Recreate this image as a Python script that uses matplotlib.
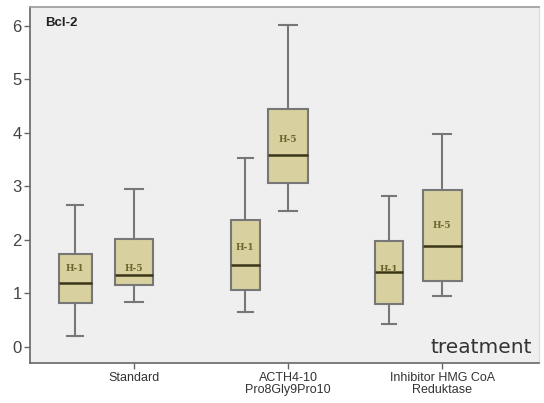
import matplotlib
matplotlib.use("Agg")
import matplotlib.pyplot as plt

plt.rcParams["font.family"] = ["Liberation Sans", "DejaVu Sans"]

categories = ["Standard", "ACTH4-10\nPro8Gly9Pro10", "Inhibitor HMG CoA\nReduktase"]
groups = ["H-1", "H-5"]

# H-1 series
h1_whislo = [0.20, 0.64, 0.42]
h1_q1     = [0.81, 1.06, 0.79]
h1_med    = [1.20, 1.52, 1.40]
h1_q3     = [1.73, 2.37, 1.98]
h1_whishi = [2.64, 3.52, 2.82]
h1_label_y = [1.46, 1.86, 1.45]

# H-5 series
h5_whislo = [0.83, 2.54, 0.95]
h5_q1     = [1.15, 3.06, 1.23]
h5_med    = [1.34, 3.59, 1.88]
h5_q3     = [2.01, 4.45, 2.93]
h5_whishi = [2.95, 6.01, 3.97]
h5_label_y = [1.46, 3.88, 2.26]

yticks = [0, 1, 2, 3, 4, 5, 6]

# layout
h1_offset = [-0.38, -0.277, -0.347]
h1_width = [0.21, 0.19, 0.185]
h5_width = [0.25, 0.255, 0.255]

fig = plt.figure(figsize=(5.44, 4.03), dpi=100)
ax = fig.add_axes([0.0551, 0.0985, 0.9366, 0.8841])
ax.set_facecolor("#efefef")
fig.patch.set_facecolor("white")

box_fill = "#d8d09f"
edge = "#777777"
med_col = "#3a3518"
lab_col = "#6b672e"

def make_stats(lo, q1, med, q3, hi):
    return [dict(whislo=a, q1=b, med=c, q3=d, whishi=e, fliers=[])
            for a, b, c, d, e in zip(lo, q1, med, q3, hi)]

s1 = make_stats(h1_whislo, h1_q1, h1_med, h1_q3, h1_whishi)
s5 = make_stats(h5_whislo, h5_q1, h5_med, h5_q3, h5_whishi)

pos5 = list(range(len(categories)))
pos1 = [p + o for p, o in zip(pos5, h1_offset)]

common = dict(patch_artist=True, showfliers=False,
              boxprops=dict(facecolor=box_fill, edgecolor=edge, linewidth=1.5),
              whiskerprops=dict(color=edge, linewidth=1.5),
              capprops=dict(color=edge, linewidth=1.5),
              medianprops=dict(color=med_col, linewidth=1.8))

for st, p, w in zip(s1, pos1, h1_width):
    ax.bxp([st], positions=[p], widths=[w], capwidths=[w * 0.5], **common)
for st, p, w in zip(s5, pos5, h5_width):
    ax.bxp([st], positions=[p], widths=[w], capwidths=[w * 0.45], **common)

for p, y in zip(pos1, h1_label_y):
    ax.text(p, y, groups[0], ha="center", va="center", fontsize=6.5,
            family="DejaVu Serif", fontweight="bold", color=lab_col)
for p, y in zip(pos5, h5_label_y):
    ax.text(p, y, groups[1], ha="center", va="center", fontsize=6.5,
            family="DejaVu Serif", fontweight="bold", color=lab_col)

ax.set_xlim(-0.674, 2.63)
ax.set_ylim(-0.31, 6.35)
ax.set_xticks(pos5)
ax.set_xticklabels(categories, fontsize=9, color="#333333", linespacing=1.0)
ax.set_yticks(yticks)
ax.set_yticklabels([str(t) for t in yticks], fontsize=12, color="#444444")
ax.tick_params(axis="both", direction="out", length=4, color="#666666", width=1)
ax.tick_params(axis="y", pad=2)
ax.tick_params(axis="x", pad=2)

for side in ["left", "bottom"]:
    ax.spines[side].set_color("#666666")
    ax.spines[side].set_linewidth(1.2)
ax.spines["top"].set_color("#9a9a9a")
ax.spines["top"].set_linewidth(1.2)
ax.spines["right"].set_color("#dddddd")
ax.spines["right"].set_linewidth(1.0)

ax.text(0.03, 0.955, "Bcl-2", transform=ax.transAxes, fontsize=9.5,
        fontweight="bold", color="#222222", ha="left", va="center")
ax.text(0.985, 0.045, "treatment", transform=ax.transAxes, fontsize=14.5,
        family="DejaVu Sans", color="#333333", ha="right", va="center")

fig.savefig("out.png", dpi=100)
